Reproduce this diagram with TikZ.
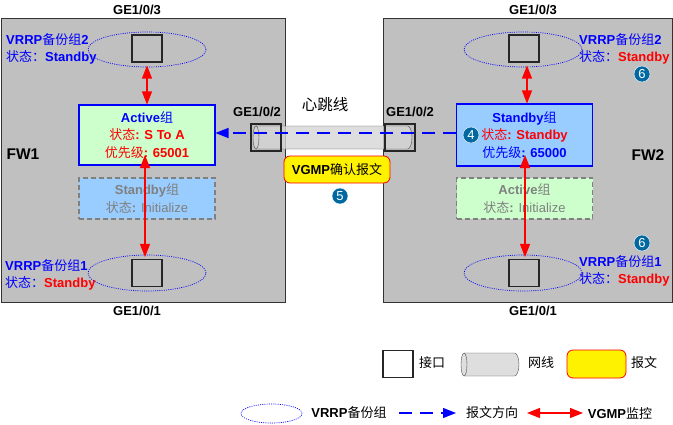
\documentclass[tikz,border=0pt]{standalone}
\usepackage{fontspec}
\setmainfont{Liberation Sans}
\newfontfamily\cjk{Noto Sans CJK SC}
\newcommand{\zh}[1]{{\cjk\mdseries #1}}
\usetikzlibrary{arrows.meta,shapes.geometric}
\definecolor{fwgray}{RGB}{192,192,192}
\definecolor{actgreen}{RGB}{204,255,204}
\definecolor{stdblue}{RGB}{153,204,255}
\definecolor{stepblue}{RGB}{0,104,160}
% #1 options, #2 left x, #3 right x, #4 top y, #5 bottom y
\newcommand{\cablebody}[5]{
	\draw[#1] (#2,#4) -- (#3,#4) arc[start angle=90, end angle=-90, x radius=4.5pt, y radius=11.5pt] -- (#2,#5) arc[start angle=270, end angle=90, x radius=3pt, y radius=11.5pt] -- cycle;
	\draw[draw = black!70] (#2,#4) arc[start angle=90, end angle=-90, x radius=3pt, y radius=11.5pt];
}
\begin{document}
\begin{tikzpicture}[x = 1pt, y = -1pt, >={Triangle[length=13pt, width=10pt]},
	firewall/.style = {draw = black!80, fill = fwgray, line width = 1pt, minimum width = #1, minimum height = 284pt, inner sep = 0pt},
	port/.style = {draw = black!85, line width = 1.1pt, minimum width = 30pt, minimum height = 27pt, inner sep = 0pt},
	vrrp/.style = {draw = blue, dash pattern = on 1pt off 1.2pt, line width = 0.7pt, ellipse, inner sep = 0pt},
	group/.style = {line width = 1.1pt, minimum width = 136pt, align = center, inner sep = 0pt, font = \fontsize{13}{17.5}\selectfont\bfseries},
	idle/.style = {group, draw = gray, dash pattern = on 5pt off 3pt, line width = 1.3pt, minimum height = 41pt, text = gray},
	txt/.style = {inner sep = 0pt, font = \fontsize{13}{17}\selectfont\bfseries},
	side/.style = {txt, anchor = west, align = left, text = blue},
	msg/.style = {draw = red, fill = yellow, line width = 0.8pt, rounded corners = 6pt, inner sep = 0pt},
	monitor/.style = {<->, draw = red, fill = red, line width = 1.2pt},
	flow/.style = {draw = blue, ->, line width = 1.3pt, dash pattern = on 13pt off 8pt},
	stepdot/.style = {circle, fill = stepblue, draw = white, line width = 0.4pt, text = white, inner sep = 0pt, minimum size = 16pt, font = \fontsize{13}{13}\selectfont}]
	\useasboundingbox (0,0) rectangle (673,424);
	% firewalls
	\node[firewall = 284pt] (fw1) at (143,160) {};
	\node[firewall = 289pt] (fw2) at (527.5,160) {};
	\node[txt, font = \fontsize{15.5}{15.5}\selectfont\bfseries] (fw1name) at (23,154) {FW1};
	\node[txt, font = \fontsize{15.5}{15.5}\selectfont\bfseries] (fw2name) at (648,155) {FW2};
	% groups
	\node[group, draw = blue, fill = actgreen, minimum height = 60pt] (act1) at (147,135) {\textcolor{blue}{Active\zh{组}}\\ \textcolor{red}{\zh{状态}: S To A}\\ \textcolor{red}{\zh{优先级}: 65001}};
	\node[idle, fill = stdblue] (std1) at (147,198.5) {Standby\zh{组}\\ \zh{状态}: \mdseries Initialize};
	\node[group, draw = blue, fill = stdblue, minimum height = 62pt] (std2) at (524.5,135) {\textcolor{blue}{Standby\zh{组}}\\ \textcolor{red}{\zh{状态}: Standby}\\ \textcolor{blue}{\zh{优先级}: 65000}};
	\node[idle, fill = actgreen] (act2) at (524.5,198.5) {Active\zh{组}\\ \zh{状态}: \mdseries Initialize};
	% cable and ports
	\cablebody{draw = black!70, fill = black!16, fill opacity = 0.8}{256}{407.5}{126}{149}
	\node[port] (p3a) at (147,48.5) {};
	\node[port] (p1a) at (147,273) {};
	\node[port] (p3b) at (524,48.5) {};
	\node[port] (p1b) at (524,273) {};
	\node[port] (p2a) at (266,137.5) {};
	\node[port] (p2b) at (400,137.5) {};
	\node[vrrp, minimum width = 118pt, minimum height = 35pt] (e3a) at (147,49.5) {};
	\node[vrrp, minimum width = 118pt, minimum height = 36pt] (e1a) at (147,273) {};
	\node[vrrp, minimum width = 118pt, minimum height = 35pt] (e3b) at (523,49.5) {};
	\node[vrrp, minimum width = 118pt, minimum height = 36pt] (e1b) at (523,273) {};
	% interface names
	\node[txt] (ge3a) at (137,10) {GE1/0/3};
	\node[txt] (ge1a) at (137,311) {GE1/0/1};
	\node[txt] (ge3b) at (533,10) {GE1/0/3};
	\node[txt] (ge1b) at (533,311) {GE1/0/1};
	\node[txt] (ge2a) at (257,112) {GE1/0/2};
	\node[txt] (ge2b) at (410,112) {GE1/0/2};
	\node[inner sep = 0pt, font = \fontsize{15.5}{15.5}\selectfont] (hb) at (325,105) {\zh{心跳线}};
	% backup groups
	\node[side] (g2a) at (6,48.5) {VRRP\zh{备份组}2\\ \zh{状态：}Standby};
	\node[side] (g1a) at (5,274.5) {VRRP\zh{备份组}1\\ \zh{状态：}\textcolor{red}{Standby}};
	\node[side] (g2b) at (579,48.5) {VRRP\zh{备份组}2\\ \zh{状态：}\textcolor{red}{Standby}};
	\node[side] (g1b) at (579,270.5) {VRRP\zh{备份组}1\\ \zh{状态：}\textcolor{red}{Standby}};
	% connectors
	\coordinate (t1) at (145,155);
	\coordinate (t2) at (525,155);
	\draw[monitor, shorten <= 3pt] (p3a.south) -- (act1.north);
	\draw[monitor, shorten <= 3pt] ([xshift=3pt]p3b.south) -- ([xshift=2.5pt]std2.north);
	\draw[monitor, shorten <= 2pt] ([xshift=-2pt]p1a.north) -- (t1);
	\draw[monitor, shorten <= 2pt] ([xshift=1pt]p1b.north) -- (t2);
	\draw[flow] ([yshift=2pt]std2.west) -- ([yshift=2pt]act1.east);
	% legend connectors
	\coordinate (ma) at (527,413);
	\coordinate (mb) at (583,413);
	\draw[monitor] (ma) -- (mb);
	\coordinate (fa) at (399,413);
	\coordinate (fb) at (456,413);
	\draw[flow] (fa) -- (fb);
	% message and steps
	\node[msg, minimum width = 106pt, minimum height = 27pt, font = \fontsize{13}{13}\selectfont\bfseries] (vgmp) at (337,169.5) {VGMP\zh{确认报文}};
	\node[stepdot] (s5) at (340,196) {5};
	\node[stepdot] (s4) at (471,135) {4};
	\node[stepdot] (s6a) at (642,74) {6};
	\node[stepdot] (s6b) at (642,243) {6};
	% legend
	\node[port] (lport) at (398,364) {};
	\node[txt] (lportt) at (432,363) {\zh{接口}};
	\cablebody{draw = black!70, fill = black!13}{464}{514.5}{353}{376}
	\node[txt] (llinet) at (541,363) {\zh{网线}};
	\node[msg, minimum width = 59pt, minimum height = 28pt] (lmsg) at (596.5,364) {};
	\node[txt] (lmsgt) at (644,363) {\zh{报文}};
	\node[vrrp, minimum width = 61pt, minimum height = 19pt] (lvrrp) at (271.5,413.5) {};
	\node[txt] (lvrrpt) at (349,413) {VRRP\zh{备份组}};
	\node[txt] (lflow) at (492,413) {\zh{报文方向}};
	\node[txt] (lmon) at (620,413) {VGMP\zh{监控}};
\end{tikzpicture}
\end{document}
